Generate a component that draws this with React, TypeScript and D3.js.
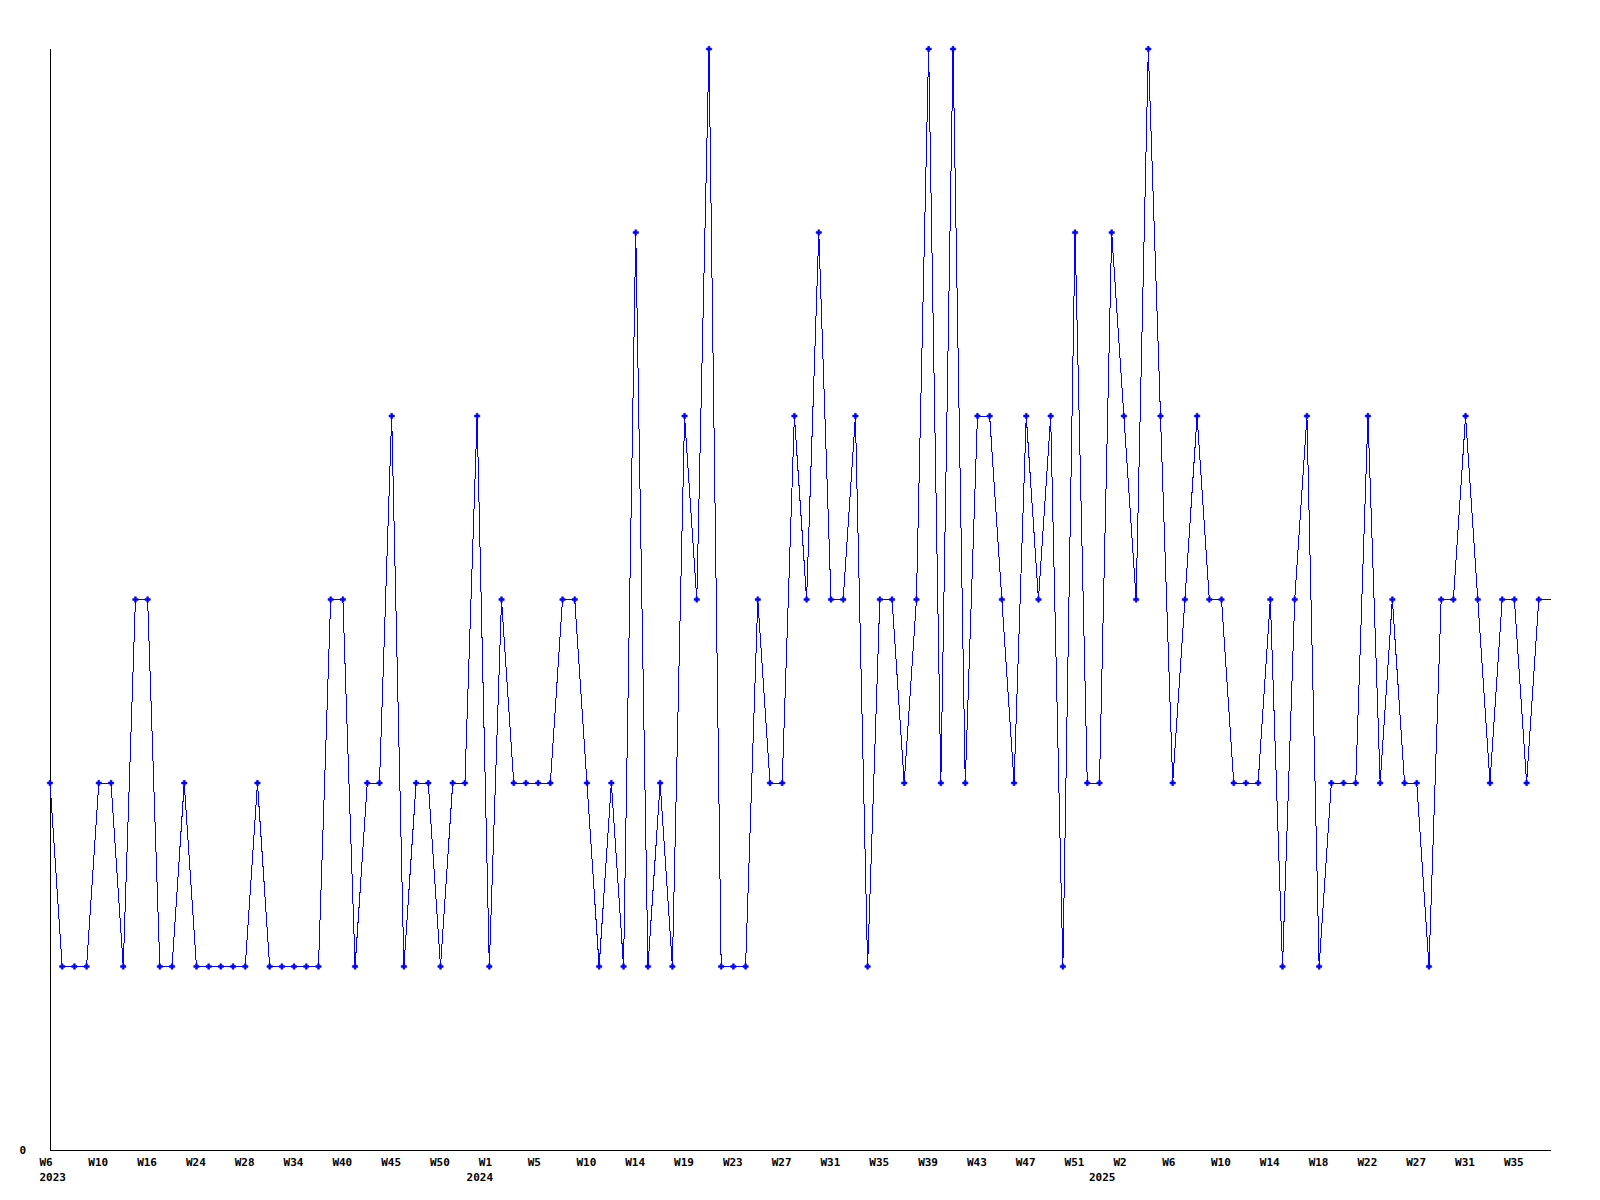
import React from "react";
import * as d3 from "d3";

// Week categories (year-Wweek), one per data point
const weeks2023 = [6, 7, 8, 9, 10, 12, 13, 15, 16, 18, 20, 22, 24, 25, 26, 27, 28, 30, 31, 33, 34, 36, 37, 39, 40, 41, 43, 44, 45, 47, 48, 49, 50, 51, 53];
const weeks2024 = [0, 1, 2, 3, 4, 5, 6, 8, 9, 10, 11, 12, 13, 14, 15, 17, 18, 19, 20, 21, 22, 23, 24, 25, 26, 27, 28, 29, 30, 31, 32, 33, 34, 35, 36, 37, 38, 39, 40, 41, 42, 43, 44, 45, 46, 47, 48, 49, 50, 51, 52];
const weeks2025 = [0, 1, 2, 3, 4, 5, 6, 7, 8, 9, 10, 11, 12, 13, 14, 15, 16, 17, 18, 19, 20, 21, 22, 24, 25, 26, 27, 28, 29, 30, 31, 32, 33, 34, 35, 36, 37, 38];

const categories: { year: number; week: number }[] = [
  ...weeks2023.map((w) => ({ year: 2023, week: w })),
  ...weeks2024.map((w) => ({ year: 2024, week: w })),
  ...weeks2025.map((w) => ({ year: 2025, week: w })),
];

// Values per week
const values = [
  2, 1, 1, 1, 2, 2, 1, 3, 3, 1,
  1, 2, 1, 1, 1, 1, 1, 2, 1, 1,
  1, 1, 1, 3, 3, 1, 2, 2, 4, 1,
  2, 2, 1, 2, 2, 4, 1, 3, 2, 2,
  2, 2, 3, 3, 2, 1, 2, 1, 5, 1,
  2, 1, 4, 3, 6, 1, 1, 1, 3, 2,
  2, 4, 3, 5, 3, 3, 4, 1, 3, 3,
  2, 3, 6, 2, 6, 2, 4, 4, 3, 2,
  4, 3, 4, 1, 5, 2, 2, 5, 4, 3,
  6, 4, 2, 3, 4, 3, 3, 2, 2, 2,
  3, 1, 3, 4, 1, 2, 2, 2, 4, 2,
  3, 2, 2, 1, 3, 3, 4, 3, 2, 3,
  3, 2, 3, 3,
];

const yTickLabels = [0];
const tickEvery = 4;

const W = 1600;
const H = 1200;
const left = 50;
const right = 1551;
const top = 49;
const bottom = 1150;

export default function App() {
  const idx = categories.map((_, i) => String(i));
  const x = d3.scalePoint<string>().domain(idx).range([left, right]);
  const y = d3.scaleLinear().domain([0, 6]).range([bottom, top]);

  const line = d3
    .line<number>()
    .x((_, i) => x(String(i)) as number)
    .y((d) => y(d));

  const tickIdx = idx.filter((_, i) => i % tickEvery === 0).map(Number);
  const yearStarts = categories
    .map((c, i) => ({ c, i }))
    .filter(({ c, i }) => i === 0 || categories[i - 1].year !== c.year);

  const font = "'DejaVu Sans Mono', monospace";
  const cross = d3.symbol().type(d3.symbolCross).size(16)() as string;

  return (
    <svg
      width={W}
      height={H}
      style={{ position: "absolute", left: 0, top: 0, display: "block", background: "#fff" }}
    >
      <rect x={0} y={0} width={W} height={H} fill="#fff" />
      {/* axes */}
      <line x1={left + 0.5} x2={left + 0.5} y1={top} y2={bottom + 0.5} stroke="#000" strokeWidth={1} shapeRendering="crispEdges" />
      <line x1={left} x2={right} y1={bottom + 0.5} y2={bottom + 0.5} stroke="#000" strokeWidth={1} shapeRendering="crispEdges" />
      {yTickLabels.map((v) => (
        <text key={v} x={26} y={y(v) + 4} textAnchor="end" fontFamily={font} fontWeight="bold" fontSize={11} fill="#000">
          {v}
        </text>
      ))}
      {tickIdx.map((i) => (
        <text key={"t" + i} x={(x(String(i)) as number) - 10.5} y={1166} fontFamily={font} fontWeight="bold" fontSize={11} fill="#000">
          {"W" + categories[i].week}
        </text>
      ))}
      {yearStarts.map(({ c, i }) => (
        <text key={"y" + c.year} x={(x(String(i)) as number) - 10.5} y={1181} fontFamily={font} fontWeight="bold" fontSize={11} fill="#000">
          {c.year}
        </text>
      ))}
      <path d={line(values) as string} fill="none" stroke="#0000ff" strokeWidth={1} shapeRendering="crispEdges" />
      {values.slice(0, values.length - 1).map((v, i) => (
        <path
          key={"m" + i}
          d={cross}
          transform={`translate(${x(String(i))},${y(v)})`}
          fill="#0000ff"
          stroke="#0000ff"
          strokeWidth={0.6}
        />
      ))}
    </svg>
  );
}
